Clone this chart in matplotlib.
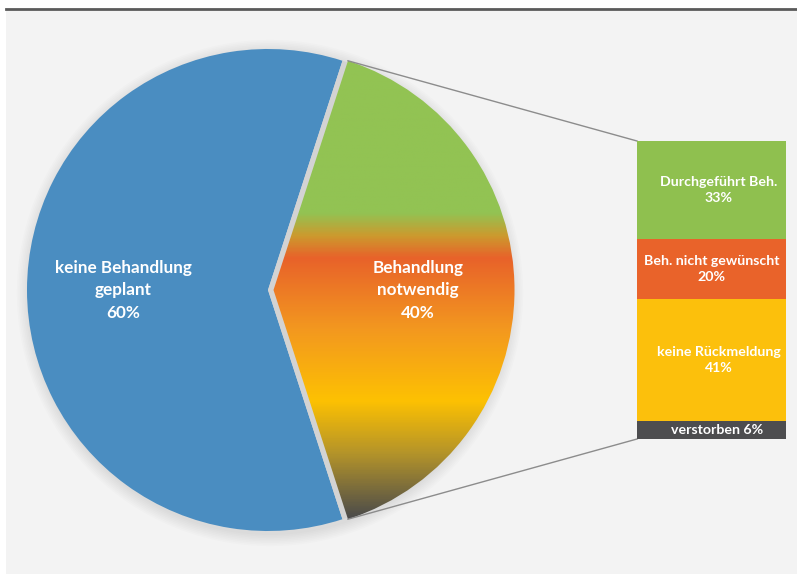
import numpy as np
import matplotlib.pyplot as plt
from matplotlib.colors import LinearSegmentedColormap
from matplotlib.patches import Rectangle, Circle, Wedge

# --- data ---
pie_labels = ["keine Behandlung\ngeplant", "Behandlung\nnotwendig"]
pie_values = [60, 40]

bar_labels = ["Durchgeführt Beh.", "Beh. nicht gewünscht", "keine Rückmeldung", "verstorben"]
bar_values = [33, 20, 41, 6]
bar_colors = ["#8fc04f", "#e9632a", "#fcc00c", "#4d4d4f"]
label_shift = [0.05, 0.0, 0.05, 0.035]   # small horizontal nudges of the bar labels

W, H = 797, 574
plt.rcParams['font.family'] = ['Lato', 'DejaVu Sans']

fig = plt.figure(figsize=(W / 100, H / 100), dpi=100)
ax = fig.add_axes([0, 0, 1, 1])

# background + top rule
ax.add_patch(Rectangle((6, 10), W - 6, H - 10, color='#f3f3f3', lw=0, zorder=0))
ax.plot([6, W], [9, 9], color='#5a5a5a', lw=2, zorder=1)

cx, cy, r = 268, 290, 241

# soft shadow round the pie
for k in range(8):
    ax.add_patch(Circle((cx + 2, cy + 3), r + 1 + k * 1.6, color='black',
                        alpha=0.012, lw=0, zorder=1))

# explode is in data units here (pixels), pie does not scale it by radius
wedges, _ = ax.pie(pie_values, startangle=72, center=(cx, cy), radius=r,
                   explode=[0, 5.5], colors=['#4a8dc1', 'none'])
blue, grad = wedges
blue.set_zorder(2)
grad.set_zorder(3)
grad.set_linewidth(0)

# light grey gap behind the exploded slice
gap = Wedge((cx, cy), r, grad.theta1, grad.theta2, color='#d3d3d3', lw=0, zorder=2.5)
ax.add_patch(gap)

# vertical colour fill of the "notwendig" slice
gx, gy = grad.center
top_y = gy - r * np.sin(np.radians(72))
bot_y = gy + r * np.sin(np.radians(72))
stops = [(top_y, '#92c353'), (213, '#92c353'), (236, '#cc9a2e'), (258, '#e8622a'),
         (330, '#f3981f'), (402, '#fdc102'), (455, '#b3932a'), (bot_y, '#4b4b4b')]
cmap = LinearSegmentedColormap.from_list(
    'fill', [((y - top_y) / (bot_y - top_y), c) for y, c in stops])
im = ax.imshow(np.linspace(0, 1, 600).reshape(-1, 1), cmap=cmap, aspect='auto',
               extent=(gx - 5, gx + r + 5, bot_y, top_y), zorder=3)
im.set_clip_path(grad)

# pie labels
for w, lab, v in zip(wedges, pie_labels, pie_values):
    mid = np.radians((w.theta1 + w.theta2) / 2)
    px = w.center[0] + 0.6 * r * np.cos(mid)
    py = w.center[1] + 0.6 * r * np.sin(mid)
    ax.text(px, py, f"{lab}\n{v}%", ha='center', va='center', color='white',
            fontsize=12.3, fontweight='bold', linespacing=1.5, zorder=5)

ax.set_xlim(0, W)
ax.set_ylim(H, 0)
ax.set_aspect('auto')
ax.axis('off')

# stacked bar on the right
bax = fig.add_axes([637 / W, 1 - 439 / H, 149 / W, 298 / H])
bottom = 0
for lab, v, c, dx in zip(bar_labels[::-1], bar_values[::-1], bar_colors[::-1], label_shift[::-1]):
    bax.bar(0, v, bottom=bottom, width=1, color=c, lw=0)
    txt = f"{lab} {v}%" if v < 10 else f"{lab}\n{v}%"
    bax.text(dx, bottom + v / 2, txt, ha='center', va='center', color='white',
             fontsize=10.2, fontweight='bold', linespacing=1.35)
    bottom += v
bax.set_xlim(-0.5, 0.5)
bax.set_ylim(0, sum(bar_values))
bax.axis('off')

# connector lines from slice corners to bar corners
to_main = ax.transData.inverted()
bar_top = to_main.transform(bax.transData.transform((-0.5, sum(bar_values))))
bar_bot = to_main.transform(bax.transData.transform((-0.5, 0)))
for ang, corner in [(grad.theta1, bar_top), (grad.theta2, bar_bot)]:
    sx = gx + r * np.cos(np.radians(ang))
    sy = gy + r * np.sin(np.radians(ang))
    ax.plot([sx, corner[0]], [sy, corner[1]], color='#8c8c8c', lw=1, zorder=4)

fig.savefig('out.png', dpi=100)
